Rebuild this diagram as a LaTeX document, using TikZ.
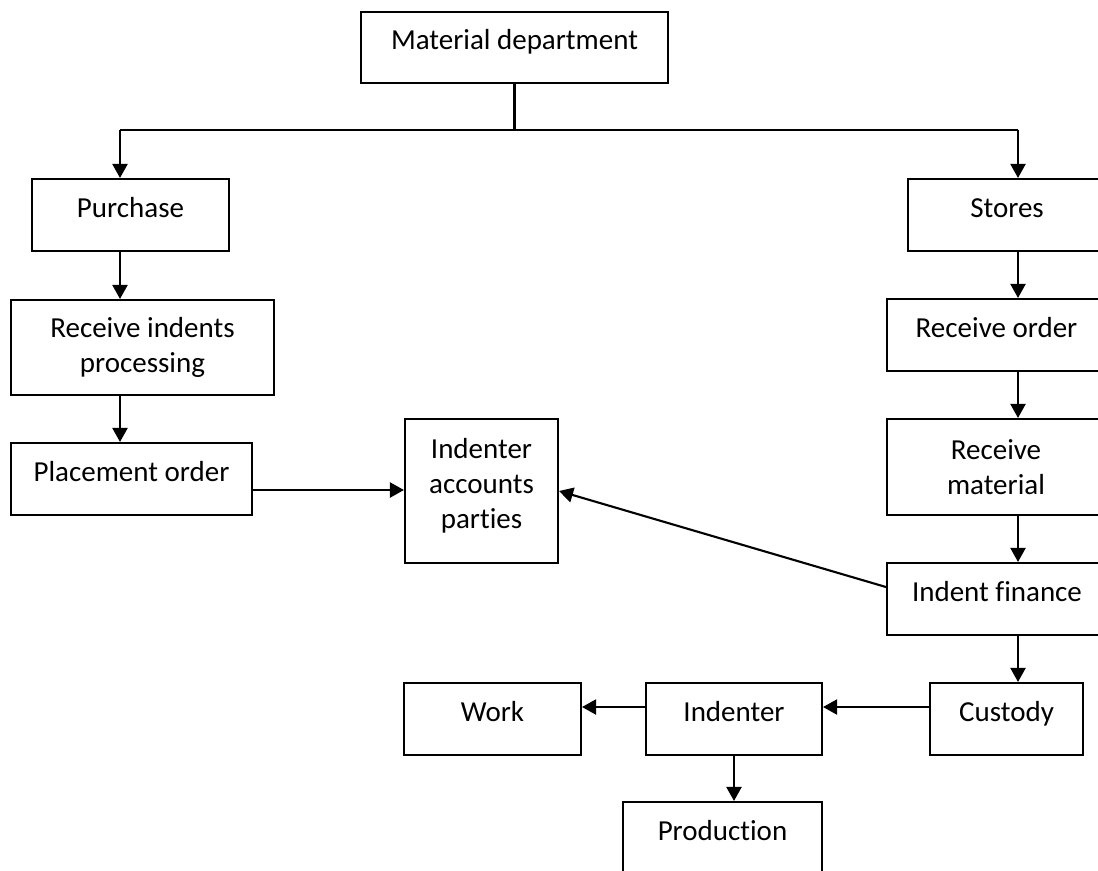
\documentclass[tikz,border=0pt]{standalone}
\usepackage{fontspec}
\setmainfont{Carlito}[RawFeature=-liga]
\usetikzlibrary{arrows.meta}

\begin{document}
\begin{tikzpicture}[x=0.02cm,y=-0.02cm,
        box/.style={draw,line width=1.2pt,inner sep=0pt,align=center,
                font=\fontsize{16.5}{19.9}\selectfont},
        one/.style={text height=0.46cm,text depth=0.38cm},
        arr/.style={line width=1.2pt,-{Triangle[length=0.28cm,width=0.3cm]}}]
        \useasboundingbox (0,0) rectangle (1098,870);

        % Boxes
        \node[box,one,minimum width=6.14cm,minimum height=1.42cm] (matdep) at (514.5,47.5) {Material department};
        \node[box,one,minimum width=3.94cm,minimum height=1.44cm] (purchase) at (130.5,215) {Purchase};
        \node[box,minimum width=5.26cm,minimum height=1.9cm] (rind) at (142.5,347.5) {Receive indents\\processing};
        \node[box,one,minimum width=4.82cm,minimum height=1.44cm] (place) at (131.5,479) {Placement order};
        \node[box,minimum width=3.06cm,minimum height=2.88cm,text depth=0.3cm] (iap) at (481.5,491) {Indenter\\accounts\\parties};
        \node[box,one,minimum width=3.96cm,minimum height=1.44cm] (stores) at (1007,215) {Stores};
        \node[box,one,minimum width=4.38cm,minimum height=1.44cm] (rord) at (996.5,335) {Receive order};
        \node[box,minimum width=4.36cm,minimum height=1.92cm] (rmat) at (996,467) {Receive\\material};
        \node[box,one,minimum width=4.4cm,minimum height=1.44cm] (ifin) at (997,599) {Indent finance};
        \node[box,one,minimum width=3.06cm,minimum height=1.44cm] (custody) at (1006.5,719) {Custody};
        \node[box,one,minimum width=3.52cm,minimum height=1.44cm] (indenter) at (734,719) {Indenter};
        \node[box,one,minimum width=3.54cm,minimum height=1.44cm] (work) at (492.5,719) {Work};
        \node[box,one,minimum width=3.98cm,minimum height=1.44cm] (prod) at (722.5,838) {Production};

        % Top bus
        \coordinate (busL) at (120,130);
        \coordinate (busR) at (1018,130);
        \draw[line width=1.2pt] (matdep.south) -- (matdep.south |- busL);
        \draw[line width=1.2pt] (busL) -- (busR);
        \draw[arr] (busL) -- (busL |- purchase.north);
        \draw[arr] (busR) -- (busR |- stores.north);

        % Left column
        \draw[arr] (purchase.south -| busL) -- (rind.north -| busL);
        \draw[arr] (rind.south -| busL) -- (place.north -| busL);
        \draw[arr] ([yshift=-0.22cm]place.east) -- ([yshift=-0.22cm]place.east -| iap.west);

        % Right column
        \draw[arr] (stores.south -| busR) -- (rord.north -| busR);
        \draw[arr] (rord.south -| busR) -- (rmat.north -| busR);
        \draw[arr] (rmat.south -| busR) -- (ifin.north -| busR);
        \draw[arr] (ifin.south -| busR) -- (custody.north -| busR);
        \draw[arr] ([yshift=0.24cm]ifin.west) -- (iap.east);

        % Bottom row
        \draw[arr] ([yshift=0.24cm]custody.west) -- ([yshift=0.24cm]custody.west -| indenter.east);
        \draw[arr] ([yshift=0.24cm]indenter.west) -- ([yshift=0.24cm]indenter.west -| work.east);
        \draw[arr] (indenter.south) -- (indenter.south |- prod.north);
\end{tikzpicture}
\end{document}
